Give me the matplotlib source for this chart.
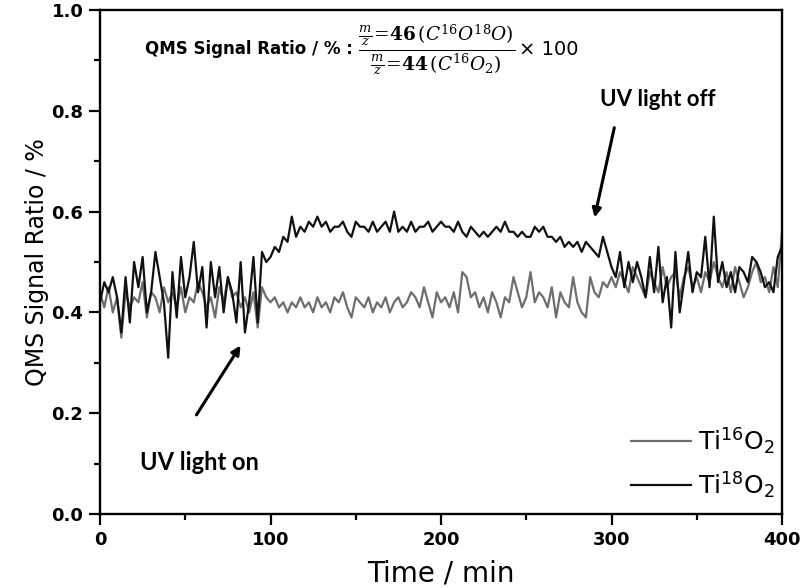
import numpy as np
import matplotlib
matplotlib.use("Agg")
import matplotlib.pyplot as plt
from matplotlib.ticker import MultipleLocator, FormatStrFormatter

plt.rcParams['font.family'] = ['DejaVu Sans']
plt.rcParams['mathtext.fontset'] = 'custom'
plt.rcParams['mathtext.rm'] = 'DejaVu Serif'
plt.rcParams['mathtext.it'] = 'DejaVu Serif:italic'
plt.rcParams['mathtext.bf'] = 'DejaVu Serif:bold'
plt.rcParams['mathtext.sf'] = 'DejaVu Sans'

time_min = np.arange(0, 400.1, 2.5)

ti18o2 = [
    0.42, 0.46, 0.44, 0.47, 0.43, 0.36, 0.47, 0.38,
    0.50, 0.45, 0.51, 0.40, 0.44, 0.52, 0.47, 0.42,
    0.31, 0.48, 0.39, 0.51, 0.43, 0.47, 0.54, 0.44,
    0.49, 0.37, 0.50, 0.43, 0.49, 0.40, 0.47, 0.44,
    0.38, 0.50, 0.36, 0.42, 0.51, 0.38, 0.52, 0.50,
    0.51, 0.53, 0.52, 0.55, 0.54, 0.59, 0.55, 0.57,
    0.56, 0.58, 0.57, 0.59, 0.57, 0.58, 0.56, 0.57,
    0.57, 0.58, 0.56, 0.55, 0.58, 0.57, 0.57, 0.56,
    0.58, 0.56, 0.57, 0.58, 0.56, 0.60, 0.56, 0.57,
    0.56, 0.58, 0.56, 0.57, 0.57, 0.58, 0.56, 0.57,
    0.58, 0.57, 0.57, 0.56, 0.58, 0.56, 0.55, 0.57,
    0.56, 0.55, 0.56, 0.55, 0.56, 0.57, 0.56, 0.58,
    0.56, 0.56, 0.55, 0.56, 0.55, 0.55, 0.57, 0.56,
    0.57, 0.55, 0.55, 0.54, 0.55, 0.53, 0.54, 0.53,
    0.54, 0.52, 0.54, 0.53, 0.52, 0.51, 0.55, 0.52,
    0.49, 0.47, 0.52, 0.45, 0.50, 0.46, 0.50, 0.47,
    0.43, 0.51, 0.44, 0.53, 0.42, 0.47, 0.37, 0.52,
    0.40, 0.46, 0.52, 0.44, 0.48, 0.47, 0.55, 0.45,
    0.59, 0.46, 0.50, 0.45, 0.48, 0.44, 0.49, 0.48,
    0.46, 0.51, 0.50, 0.48, 0.45, 0.46, 0.44, 0.51,
    0.53,
]

ti16o2 = [
    0.44, 0.41, 0.45, 0.40, 0.43, 0.35, 0.44, 0.41,
    0.43, 0.42, 0.46, 0.39, 0.44, 0.43, 0.40, 0.45,
    0.42, 0.44, 0.41, 0.45, 0.40, 0.43, 0.42, 0.46,
    0.44, 0.41, 0.43, 0.39, 0.45, 0.42, 0.47, 0.43,
    0.44, 0.41, 0.43, 0.40, 0.44, 0.37, 0.45, 0.43,
    0.42, 0.43, 0.41, 0.42, 0.40, 0.42, 0.41, 0.43,
    0.41, 0.42, 0.40, 0.43, 0.41, 0.42, 0.40, 0.43,
    0.42, 0.44, 0.41, 0.39, 0.43, 0.42, 0.41, 0.43,
    0.40, 0.42, 0.41, 0.43, 0.40, 0.42, 0.43, 0.41,
    0.42, 0.44, 0.43, 0.41, 0.45, 0.42, 0.39, 0.44,
    0.42, 0.43, 0.41, 0.44, 0.40, 0.48, 0.47, 0.43,
    0.44, 0.41, 0.43, 0.40, 0.44, 0.42, 0.39, 0.43,
    0.42, 0.47, 0.44, 0.41, 0.43, 0.48, 0.42, 0.44,
    0.43, 0.41, 0.45, 0.39, 0.44, 0.42, 0.41, 0.47,
    0.42, 0.40, 0.39, 0.47, 0.44, 0.43, 0.46, 0.45,
    0.47, 0.45, 0.48, 0.46, 0.44, 0.49, 0.47, 0.45,
    0.43, 0.48, 0.46, 0.44, 0.49, 0.45, 0.47, 0.48,
    0.43, 0.47, 0.49, 0.45, 0.47, 0.44, 0.48, 0.46,
    0.50, 0.47, 0.45, 0.48, 0.44, 0.49, 0.46, 0.43,
    0.45, 0.48, 0.50, 0.46, 0.47, 0.44, 0.49, 0.45,
    0.56,
]

series_labels = [r'Ti$^{\mathsf{16}}$O$_{\mathsf{2}}$', r'Ti$^{\mathsf{18}}$O$_{\mathsf{2}}$']

fig = plt.figure(figsize=(8, 5.88), dpi=100)
ax = fig.add_axes([0.125, 0.1259, 0.8525, 0.857])

ax.plot(time_min, ti16o2, color='#6e6e6e', lw=1.6, label=series_labels[0])
ax.plot(time_min, ti18o2, color='#111111', lw=1.6, label=series_labels[1])

ax.set_xlim(0, 400)
ax.set_ylim(0.0, 1.0)
ax.xaxis.set_major_locator(MultipleLocator(100))
ax.xaxis.set_minor_locator(MultipleLocator(50))
ax.yaxis.set_major_locator(MultipleLocator(0.2))
ax.yaxis.set_minor_locator(MultipleLocator(0.1))
ax.yaxis.set_major_formatter(FormatStrFormatter('%.1f'))
ax.tick_params(axis='both', which='major', direction='out', length=8, width=1.6,
               labelsize=13, top=False, right=False, pad=4)
ax.tick_params(axis='both', which='minor', direction='out', length=4.5, width=1.6,
               top=False, right=False)
for lbl in ax.get_xticklabels() + ax.get_yticklabels():
    lbl.set_fontweight('bold')
for s in ax.spines.values():
    s.set_linewidth(1.7)

ax.set_xlabel('Time / min', fontsize=20, labelpad=8)
ax.set_ylabel('QMS Signal Ratio / %', fontsize=17, labelpad=2)

ax.text(26.4, 0.922, 'QMS Signal Ratio / % :', fontsize=12, fontweight='bold',
        ha='left', va='center')
ax.text(151.5, 0.922,
        r'$\frac{\frac{m}{z}\!=\!\mathbf{46}\,(C^{16}O^{18}O)}{\frac{m}{z}\!=\!\mathbf{44}\,(C^{16}O_2)}$',
        fontsize=19, ha='left', va='center')
ax.text(246, 0.922, '× 100', fontsize=14, ha='left', va='center')

ax.annotate('', xy=(83.3, 0.339), xytext=(55.7, 0.192),
            arrowprops=dict(arrowstyle='-|>', color='black', lw=2.2, mutation_scale=13))
ax.text(23.5, 0.103, 'UV light on', fontsize=17, ha='left', va='center',
        family=['Lato', 'DejaVu Sans'], fontweight='bold')

ax.annotate('', xy=(289.7, 0.583), xytext=(302, 0.772),
            arrowprops=dict(arrowstyle='-|>', color='black', lw=2.2, mutation_scale=13))
ax.text(293, 0.822, 'UV light off', fontsize=16, ha='left', va='center',
        family=['Lato', 'DejaVu Sans'], fontweight='bold')

ax.legend(loc='lower right', bbox_to_anchor=(1.01, 0.0), frameon=False, fontsize=18,
          handlelength=2.4, handletextpad=0.3, borderaxespad=0.35, borderpad=0.2,
          labelspacing=0.55)

fig.savefig('out.png', dpi=100)
